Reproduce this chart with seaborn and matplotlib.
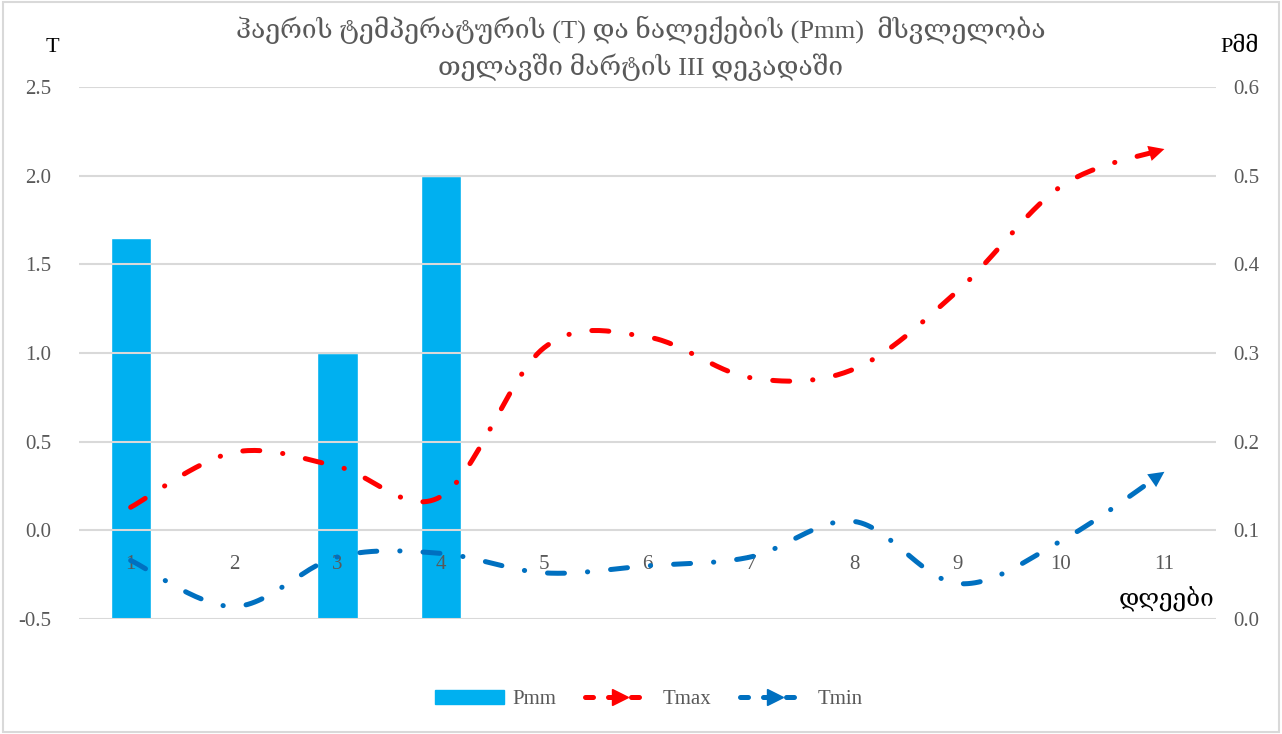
import numpy as np
import pandas as pd
import seaborn as sns
import matplotlib
matplotlib.use("Agg")
import matplotlib.pyplot as plt
from matplotlib.lines import Line2D
from matplotlib.patches import Patch, Rectangle

days = [str(d) for d in range(1, 12)]
pmm = [0.43, 0, 0.3, 0.5, 0, 0, 0, 0, 0, 0, 0]
tmax = [0.13, 0.44, 0.36, 0.19, 1.03, 1.09, 0.86, 0.91, 1.35, 1.94, 2.15]
tmin = [-0.17, -0.43, -0.15, -0.13, -0.24, -0.20, -0.15, 0.05, -0.30, -0.06, 0.33]

title = "ჰაერის ტემპერატურის (T) და ნალექების (Pmm)  მსვლელობა\nთელავში მარტის III დეკადაში"
FONTS = ["Liberation Serif", "DejaVu Serif", "DejaVu Sans"]
GREY = "#595959"
BLUE_BAR = "#00B0F0"
RED = "#FF0000"
BLUE = "#0070C0"
DASH = (0, (3.4, 4.6, 0.05, 4.6))


def smooth(y, n=30):
    # catmull-rom through the points, like excel's smoothed line
    p = np.asarray(y, dtype=float)
    x = np.arange(len(p), dtype=float)
    px = np.concatenate([[x[0]], x, [x[-1]]])
    py = np.concatenate([[p[0]], p, [p[-1]]])
    xs, ys = [], []
    t = np.linspace(0, 1, n, endpoint=False)
    for i in range(1, len(px) - 2):
        for arr, out in ((px, xs), (py, ys)):
            p0, p1, p2, p3 = arr[i - 1], arr[i], arr[i + 1], arr[i + 2]
            out.extend(0.5 * ((2 * p1) + (-p0 + p2) * t
                              + (2 * p0 - 5 * p1 + 4 * p2 - p3) * t ** 2
                              + (-p0 + 3 * p1 - 3 * p2 + p3) * t ** 3))
    xs.append(x[-1])
    ys.append(p[-1])
    return np.array(xs), np.array(ys)


sns.set_style("white")
plt.rcParams["font.family"] = FONTS

fig = plt.figure(figsize=(12.82, 7.34), dpi=100)
ax = fig.add_axes([0.0616, 0.1567, 0.887, 0.7248])
ax2 = ax.twinx()

df = pd.DataFrame({"day": days, "Pmm": pmm})
sns.barplot(data=df, x="day", y="Pmm", ax=ax2, color=BLUE_BAR,
            saturation=1, width=0.39)
ax2.set_ylim(0, 0.6)
ax2.set_yticks(np.arange(0, 0.61, 0.1))
ax2.set_yticklabels([f"{v:.1f}" for v in np.arange(0, 0.61, 0.1)])
ax2.set_xlabel("")
ax2.set_ylabel("")

for vals, col in ((tmax, RED), (tmin, BLUE)):
    sx, sy = smooth(vals)
    ax.plot(sx[:-4], sy[:-4], color=col, lw=3.6, linestyle=DASH,
            dash_capstyle="round", solid_capstyle="round")
    ax.annotate("", xy=(sx[-1], sy[-1]), xytext=(sx[-6], sy[-6]),
                arrowprops=dict(arrowstyle="-|>", color=col, lw=0,
                                mutation_scale=28, shrinkA=0, shrinkB=0))

ax.set_zorder(ax2.get_zorder() + 1)
ax.patch.set_visible(False)
ax.set_xlim(-0.5, 10.5)
ax.set_ylim(-0.5, 2.5)
ax.set_yticks(np.arange(-0.5, 2.51, 0.5))
ax.set_yticklabels([f"{v:.1f}" for v in np.arange(-0.5, 2.51, 0.5)])
ax.set_xticks(range(11))
ax.set_xticklabels(days)
ax.grid(axis="y", color="#D9D9D9", lw=1.5)
ax.grid(axis="x", visible=False)
ax.spines["bottom"].set_position(("data", 0))
for a in (ax, ax2):
    for s in a.spines.values():
        s.set_visible(False)
    a.tick_params(length=0, labelsize=15, labelcolor=GREY)
ax.tick_params(axis="x", pad=18)
ax.tick_params(axis="y", pad=20)
ax2.tick_params(axis="y", pad=12)

fig.text(0.5, 0.934, title, ha="center", va="center", fontsize=19,
         color=GREY, linespacing=1.45)
fig.text(0.041, 0.935, "T", ha="center", va="center", fontsize=16, color="black")
fig.text(0.967, 0.935, "Pმმ", ha="center", va="center", fontsize=16, color="black")
fig.text(0.947, 0.183, "დღეები", ha="right", va="center", fontsize=17.5, color="black")

handles = [
    Patch(color=BLUE_BAR, label="Pmm"),
    Line2D([], [], color=RED, lw=3.6, linestyle=(0, (1.6, 3.0)),
           dash_capstyle="round", marker=">", markersize=11, label="Tmax"),
    Line2D([], [], color=BLUE, lw=3.6, linestyle=(0, (1.6, 3.0)),
           dash_capstyle="round", marker=">", markersize=11, label="Tmin"),
]
fig.legend(handles=handles, loc="center", bbox_to_anchor=(0.506, 0.047),
           ncol=3, frameon=False, fontsize=15, labelcolor=GREY,
           handlelength=3.3, columnspacing=1.4, handletextpad=0.4, numpoints=1)

fig.patches.append(Rectangle((0.002, 0.003), 0.996, 0.994, transform=fig.transFigure,
                             fill=False, edgecolor="#D9D9D9", lw=1.5))

fig.savefig("out.png", dpi=100)
